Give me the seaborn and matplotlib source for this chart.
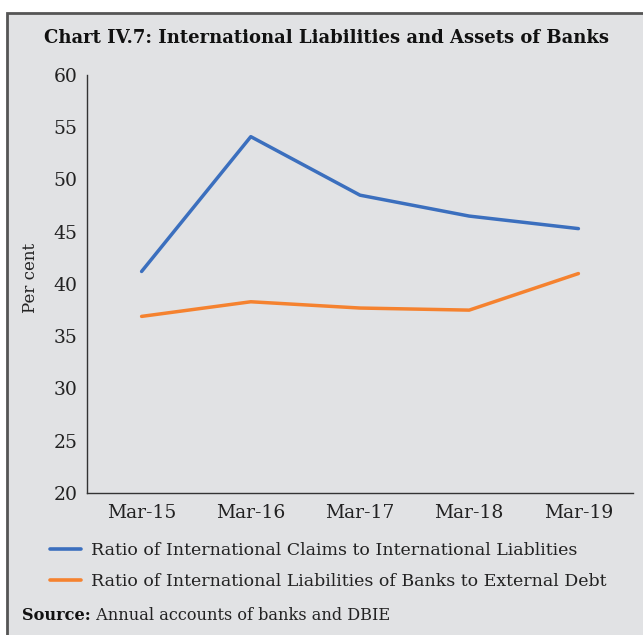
import matplotlib
matplotlib.use("Agg")
import matplotlib.pyplot as plt
import seaborn as sns
import pandas as pd
from matplotlib.patches import Rectangle
from matplotlib.lines import Line2D

categories = ["Mar-15", "Mar-16", "Mar-17", "Mar-18", "Mar-19"]
claims_to_liabilities = [41.2, 54.1, 48.5, 46.5, 45.3]
liabilities_to_ext_debt = [36.9, 38.3, 37.7, 37.5, 41.0]
series_names = ["Ratio of International Claims to International Liablities",
                "Ratio of International Liabilities of Banks to External Debt"]
y_ticks = [20, 25, 30, 35, 40, 45, 50, 55, 60]

BG = "#e1e2e4"
BLUE = "#3b6fbe"
ORANGE = "#f5822f"
DARK = "#333333"

sns.set_theme(style="white")
plt.rcParams["font.family"] = ["DejaVu Serif"]

df = pd.DataFrame({
    "x": list(range(len(categories))) * 2,
    "value": claims_to_liabilities + liabilities_to_ext_debt,
    "series": [series_names[0]] * len(categories) + [series_names[1]] * len(categories),
})

fig = plt.figure(figsize=(6.43, 6.35), dpi=100)
fig.patch.set_facecolor("white")
panel = Rectangle((7 / 643, -0.05), 1.2, 1 - 13 / 635 + 0.05, transform=fig.transFigure,
                  facecolor=BG, edgecolor="#555555", linewidth=2, zorder=-10)
fig.patches.append(panel)

ax = fig.add_axes([87 / 643, 1 - 493 / 635, (633 - 87) / 643, (493 - 75) / 635])
ax.set_facecolor(BG)
sns.lineplot(data=df, x="x", y="value", hue="series", palette=[BLUE, ORANGE],
             linewidth=2.5, ax=ax, legend=False)

ax.set_xlim(-0.5, len(categories) - 0.5)
ax.set_ylim(20, 60)
ax.set_yticks(y_ticks)
ax.set_yticklabels([str(t) for t in y_ticks], fontsize=13.5, color="#222222")
ax.set_xticks([i - 0.5 for i in range(len(categories) + 1)])
ax.set_xticklabels([])
ax.set_xticks(list(range(len(categories))), minor=True)
ax.set_xticklabels(categories, minor=True, fontsize=13.5, color="#222222")
ax.tick_params(axis="x", which="minor", length=0, pad=8)
ax.tick_params(axis="x", which="major", length=5, width=1, color=DARK, direction="out")
ax.tick_params(axis="y", length=5, width=1, color=DARK, direction="out", pad=2)
ax.set_xlabel("")
ax.set_ylabel("Per cent", fontsize=12, color="#222222")
ax.yaxis.set_label_coords(-0.087, 0.515)
for s in ["top", "right"]:
    ax.spines[s].set_visible(False)
for s in ["left", "bottom"]:
    ax.spines[s].set_color(DARK)
    ax.spines[s].set_linewidth(1)

fig.text(327 / 643, 1 - 38 / 635, "Chart IV.7: International Liabilities and Assets of Banks",
         ha="center", va="center", fontsize=13, fontweight="bold", color="#111111")

handles = [Line2D([], [], color=BLUE, linewidth=2.6),
           Line2D([], [], color=ORANGE, linewidth=2.6)]
leg = fig.legend(handles, series_names, loc="upper left",
                 bbox_to_anchor=(50 / 643, 1 - 542 / 635), frameon=False,
                 fontsize=12.5, handlelength=1.8, handletextpad=0.55, labelspacing=0.8,
                 borderaxespad=0, borderpad=0)
for t in leg.get_texts():
    t.set_color("#222222")

src = fig.text(22 / 643, 1 - 615 / 635, "Source:", ha="left", va="center",
               fontsize=11.6, fontweight="bold", color="#111111")
ax.annotate(" Annual accounts of banks and DBIE", xy=(1, 0.5), xycoords=src,
            ha="left", va="center", fontsize=11.6, color="#222222")

fig.savefig("out.png", dpi=100, facecolor="white")
